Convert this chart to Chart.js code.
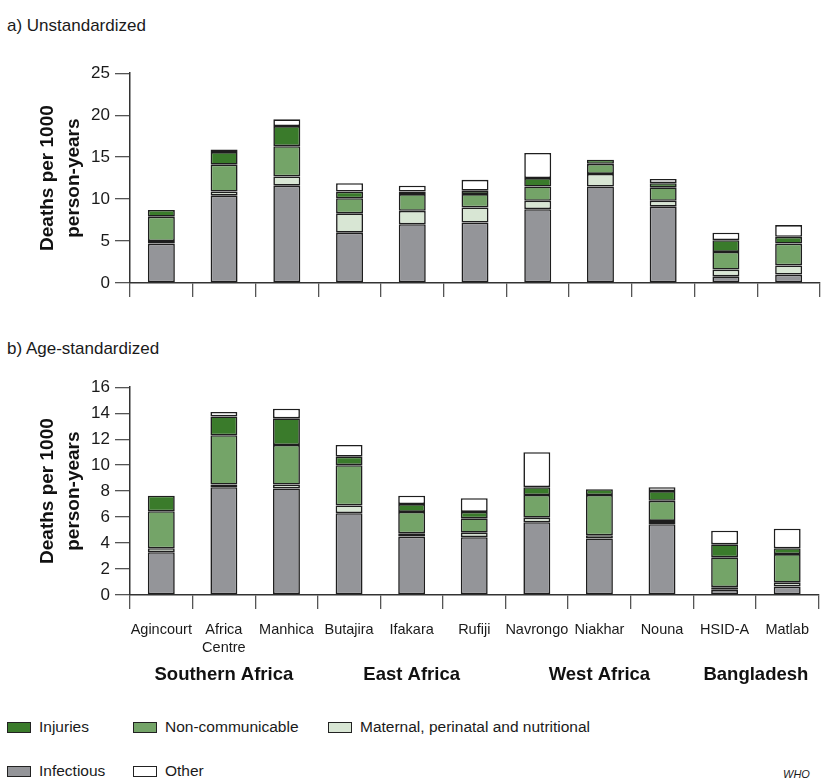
<!DOCTYPE html>
<html>
<head>
<meta charset="utf-8">
<title>Deaths per 1000 person-years by cause group and site</title>
<script src="https://cdn.jsdelivr.net/npm/chart.js@4.4.1/dist/chart.umd.min.js"></script>
<style>
  html, body { margin: 0; padding: 0; background: #fff; }
  body {
    width: 821px; height: 778px; position: relative; overflow: hidden;
    font-family: "Liberation Sans", Arial, sans-serif;
    color: #1a1a1a;
  }
  .panel-title { position: absolute; left: 7px; font-size: 17px; line-height: 22px; white-space: nowrap; }
  canvas { position: absolute; left: 0; }
  #legend {
    position: absolute; left: 7px; top: 716px;
    display: grid; grid-template-columns: 126px 195px auto; grid-auto-rows: 44px;
  }
  .item { display: flex; align-items: center; height: 22px; font-size: 15.5px; white-space: nowrap; }
  .swatch { width: 22px; height: 9px; border: 1.5px solid #222; margin-right: 8px; flex: none; }
  #credit { position: absolute; left: 783px; top: 768px; font-style: italic; font-size: 11px; }
</style>
</head>
<body>
<div class="panel-title" style="top:15px">a) Unstandardized</div>
<canvas id="chartA" width="821" height="240" style="top:60px"></canvas>
<div class="panel-title" style="top:338px">b) Age-standardized</div>
<canvas id="chartB" width="821" height="320" style="top:374px"></canvas>
<div id="legend"></div>
<div id="credit">WHO</div>

<script>
// Study sites and their regional groups
const categories = ['Agincourt', ['Africa', 'Centre'], 'Manhica', 'Butajira', 'Ifakara', 'Rufiji',
                    'Navrongo', 'Niakhar', 'Nouna', 'HSID-A', 'Matlab'];
const groups = ['Southern Africa', 'East Africa', 'West Africa', 'Bangladesh'];
const groupSizes = [3, 3, 3, 2];

// Cause-group names (stacking order, bottom to top)
const causeNames = ['Infectious', 'Maternal, perinatal and nutritional', 'Non-communicable', 'Injuries', 'Other'];
const causeColors = ['#949599', '#d8e6d4', '#74a468', '#3a7b2b', '#ffffff'];
const legendOrder = ['Injuries', 'Non-communicable', 'Maternal, perinatal and nutritional', 'Infectious', 'Other'];

// a) Unstandardized rates, deaths per 1000 person-years
const infectiousA    = [4.7, 10.4, 11.6, 6.0, 7.0, 7.2, 8.8, 11.5, 9.1, 0.8, 1.0];
const maternalA      = [0.3, 0.5, 1.1, 2.3, 1.6, 1.8, 1.0, 1.5, 0.7, 0.8, 1.1];
const noncommA       = [2.9, 3.2, 3.6, 1.8, 2.0, 1.6, 1.7, 1.2, 1.6, 2.1, 2.6];
const injuriesA      = [0.8, 1.5, 2.4, 0.8, 0.3, 0.4, 1.0, 0.5, 0.5, 1.4, 0.8];
const otherA         = [null, 0.3, 0.8, 1.0, 0.7, 1.3, 3.0, null, 0.5, 0.9, 1.4];
const yTicksA        = { max: 25, step: 5 };

// b) Age-standardized rates, deaths per 1000 person-years
const infectiousB    = [3.3, 8.3, 8.2, 6.3, 4.5, 4.45, 5.6, 4.35, 5.45, 0.4, 0.65];
const maternalB      = [0.3, 0.2, 0.3, 0.6, 0.25, 0.35, 0.35, 0.25, 0.25, 0.2, 0.3];
const noncommB       = [2.85, 3.8, 3.05, 3.1, 1.65, 1.1, 1.75, 3.1, 1.55, 2.3, 2.2];
const injuriesB      = [1.2, 1.45, 2.05, 0.65, 0.6, 0.5, 0.6, 0.45, 0.75, 1.0, 0.45];
const otherB         = [null, 0.35, 0.75, 0.9, 0.65, 1.05, 2.7, null, 0.3, 1.05, 1.5];
const yTicksB        = { max: 16, step: 2 };

const FONT = '"Liberation Sans", Arial, sans-serif';
const INK = '#1a1a1a';

// Regional group names under the site labels
const groupLabels = {
  id: 'groupLabels',
  afterDraw(chart, args, opts) {
    if (!opts.show) return;
    const xs = chart.scales.x;
    const ctx = chart.ctx;
    ctx.save();
    ctx.font = 'bold 18.5px ' + FONT;
    ctx.fillStyle = '#111';
    ctx.textAlign = 'center';
    ctx.textBaseline = 'middle';
    const y = xs.top + opts.offset;
    let start = 0;
    groups.forEach((g, i) => {
      const end = start + groupSizes[i] - 1;
      const cx = (xs.getPixelForValue(start) + xs.getPixelForValue(end)) / 2;
      ctx.fillText(g, cx, y);
      start = end + 1;
    });
    ctx.restore();
  }
};

// Draws one stacked panel; the canvas is placed so the plot spans plotTop..plotTop+plotHeight on the page
function buildChart(id, series, yTicks, showSites, xAxisHeight, plotTop, plotHeight) {
  const datasets = series.map((vals, i) => ({
    label: causeNames[i],
    data: vals,
    backgroundColor: causeColors[i],
    borderColor: '#1e1e1e',
    borderWidth: 1.6,
    borderSkipped: false,
    barPercentage: 0.43,
    categoryPercentage: 1.0,
    stack: 'deaths'
  }));
  const canvas = document.getElementById(id);
  const chart = new Chart(canvas, {
    type: 'bar',
    data: { labels: categories, datasets },
    options: {
      responsive: false,
      maintainAspectRatio: false,
      animation: false,
      layout: { padding: { top: 0, right: 1, left: 0, bottom: 0 } },
      plugins: {
        legend: { display: false },
        tooltip: { enabled: false },
        groupLabels: { show: showSites, offset: 80 }
      },
      scales: {
        x: {
          stacked: true,
          offset: true,
          grid: { offset: true, drawOnChartArea: false, drawTicks: true, tickLength: 14, color: '#555', lineWidth: 1.3 },
          border: { display: true, color: '#333', width: 1.5 },
          ticks: {
            display: showSites, autoSkip: false, maxRotation: 0, minRotation: 0,
            padding: 12, color: INK,
            font: { family: FONT, size: 14.5, lineHeight: 1.24 }
          },
          afterFit(s) { s.height = xAxisHeight; }
        },
        y: {
          stacked: true,
          min: 0, max: yTicks.max,
          grid: { drawOnChartArea: false, drawTicks: true, tickLength: 15, color: '#555', lineWidth: 1.3 },
          border: { display: true, color: '#333', width: 1.5 },
          ticks: { stepSize: yTicks.step, autoSkip: false, padding: 5, color: INK, font: { family: FONT, size: 17 } },
          title: {
            display: true,
            text: ['Deaths per 1000', 'person-years'],
            color: '#111',
            font: { family: FONT, size: 19, weight: 'bold', lineHeight: 1.35 },
            padding: { top: 35, bottom: 0 }
          },
          afterFit(s) { s.width = 130; }
        }
      }
    },
    plugins: [groupLabels]
  });
  // fit canvas so the plot area lands at the wanted page position and height
  const t = chart.chartArea.top;
  const h = Math.round(t + plotHeight + xAxisHeight);
  canvas.style.top = (plotTop - t) + 'px';
  chart.resize(821, h);
  return chart;
}

const chartA = buildChart('chartA', [infectiousA, maternalA, noncommA, injuriesA, otherA], yTicksA, false, 17, 72.7, 210);
const chartB = buildChart('chartB', [infectiousB, maternalB, noncommB, injuriesB, otherB], yTicksB, true, 99, 387.3, 207.7);

// Legend built from the chart's own datasets
const legendEl = document.getElementById('legend');
legendOrder.forEach(name => {
  const ds = chartB.data.datasets.find(d => d.label === name);
  const item = document.createElement('div');
  item.className = 'item';
  const sw = document.createElement('span');
  sw.className = 'swatch';
  sw.style.background = ds.backgroundColor;
  const tx = document.createElement('span');
  tx.textContent = ds.label;
  item.appendChild(sw);
  item.appendChild(tx);
  legendEl.appendChild(item);
});
</script>
</body>
</html>
